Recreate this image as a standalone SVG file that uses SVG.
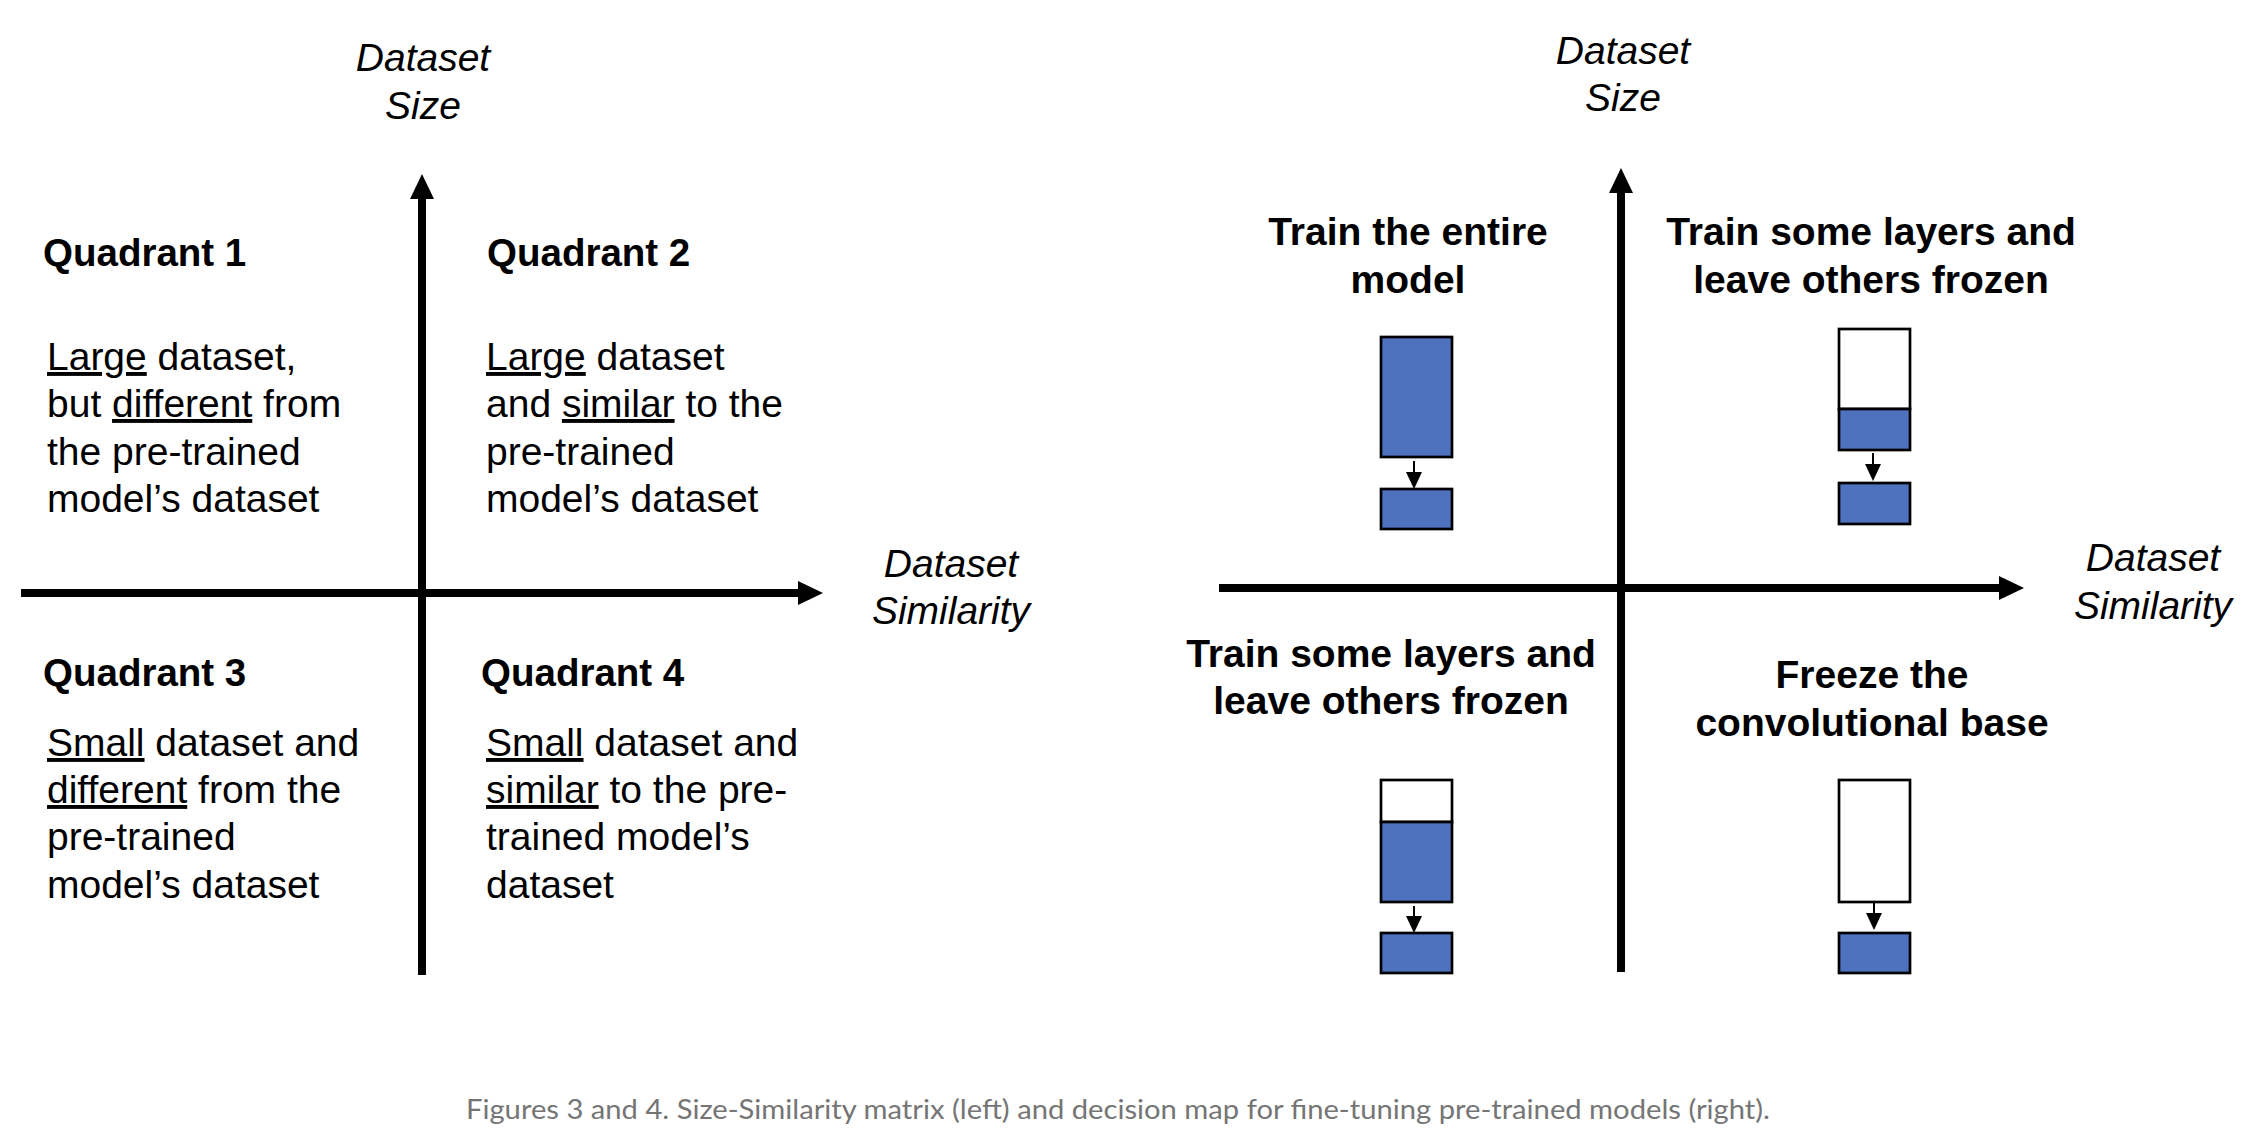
<svg xmlns="http://www.w3.org/2000/svg" width="2252" height="1148" viewBox="0 0 2252 1148">
<defs>
<style>
.ax{stroke:#000;stroke-width:8;fill:none}
.ar{stroke:#000;stroke-width:2;fill:none}
.lab{font-family:"Liberation Sans",Arial,sans-serif;font-style:italic;font-size:39px;fill:#000;text-anchor:middle}
.qh{font-family:"Liberation Sans",Arial,sans-serif;font-weight:bold;font-size:38.5px;fill:#000}
.body{font-family:"Liberation Sans",Arial,sans-serif;font-size:39px;fill:#000}
.hd{font-family:"Liberation Sans",Arial,sans-serif;font-weight:bold;font-size:39px;fill:#000;text-anchor:middle}
.u{text-decoration:underline}
.blue{fill:#4E72BE;stroke:#000;stroke-width:2.7}
.white{fill:#fff;stroke:#000;stroke-width:2.7}
.cap{font-family:Lato,"Open Sans",sans-serif;font-size:27px;fill:#757575;text-anchor:middle}
</style>
<marker id="big" viewBox="0 0 25 24" refX="0" refY="12" markerWidth="25" markerHeight="24" markerUnits="userSpaceOnUse" orient="auto">
<path d="M0,0 L25,12 L0,24 z" fill="#000"/>
</marker>
<marker id="small" viewBox="0 0 17 16" refX="0" refY="8" markerWidth="17" markerHeight="16" markerUnits="userSpaceOnUse" orient="auto">
<path d="M0,0 L17,8 L0,16 z" fill="#000"/>
</marker>
</defs>
<rect width="2252" height="1148" fill="#fff"/>

<g id="connectors">
<line class="ax" x1="422" y1="975" x2="422" y2="199" marker-end="url(#big)"/>
<line class="ax" x1="21" y1="593" x2="798" y2="593" marker-end="url(#big)"/>
<line class="ax" x1="1621" y1="972" x2="1621" y2="193" marker-end="url(#big)"/>
<line class="ax" x1="1219" y1="588" x2="1999" y2="588" marker-end="url(#big)"/>
<line class="ar" x1="1414" y1="461" x2="1414" y2="472" marker-end="url(#small)"/>
<line class="ar" x1="1873" y1="453" x2="1873" y2="464" marker-end="url(#small)"/>
<line class="ar" x1="1414" y1="906" x2="1414" y2="916" marker-end="url(#small)"/>
<line class="ar" x1="1874" y1="902" x2="1874" y2="913" marker-end="url(#small)"/>
</g>

<g id="left-axis-labels">
<text class="lab" x="423" y="71">Dataset</text>
<text class="lab" x="423" y="119">Size</text>
<text class="lab" x="951" y="577">Dataset</text>
<text class="lab" x="951" y="624">Similarity</text>
</g>

<g id="quadrant1">
<text class="qh" x="43" y="266">Quadrant 1</text>
<text class="body" x="47" y="370"><tspan class="u">Large</tspan> dataset,</text>
<text class="body" x="47" y="417">but <tspan class="u">different</tspan> from</text>
<text class="body" x="47" y="465">the pre-trained</text>
<text class="body" x="47" y="512">model’s dataset</text>
</g>

<g id="quadrant2">
<text class="qh" x="487" y="266">Quadrant 2</text>
<text class="body" x="486" y="370"><tspan class="u">Large</tspan> dataset</text>
<text class="body" x="486" y="417">and <tspan class="u">similar</tspan> to the</text>
<text class="body" x="486" y="465">pre-trained</text>
<text class="body" x="486" y="512">model’s dataset</text>
</g>

<g id="quadrant3">
<text class="qh" x="43" y="686">Quadrant 3</text>
<text class="body" x="47" y="756"><tspan class="u">Small</tspan> dataset and</text>
<text class="body" x="47" y="803"><tspan class="u">different</tspan> from the</text>
<text class="body" x="47" y="850">pre-trained</text>
<text class="body" x="47" y="898">model’s dataset</text>
</g>

<g id="quadrant4">
<text class="qh" x="481" y="686">Quadrant 4</text>
<text class="body" x="486" y="756"><tspan class="u">Small</tspan> dataset and</text>
<text class="body" x="486" y="803"><tspan class="u">similar</tspan> to the pre-</text>
<text class="body" x="486" y="850">trained model’s</text>
<text class="body" x="486" y="898">dataset</text>
</g>

<g id="right-axis-labels">
<text class="lab" x="1623" y="64">Dataset</text>
<text class="lab" x="1623" y="111">Size</text>
<text class="lab" x="2153" y="571">Dataset</text>
<text class="lab" x="2153" y="619">Similarity</text>
</g>

<g id="train-entire">
<text class="hd" x="1408" y="245">Train the entire</text>
<text class="hd" x="1408" y="293">model</text>
<rect class="blue" x="1381" y="337" width="71" height="120"/>
<rect class="blue" x="1381" y="489" width="71" height="40"/>
</g>

<g id="train-some-top">
<text class="hd" x="1871" y="245">Train some layers and</text>
<text class="hd" x="1871" y="293">leave others frozen</text>
<rect class="white" x="1839" y="329" width="71" height="80"/>
<rect class="blue" x="1839" y="409" width="71" height="41"/>
<rect class="blue" x="1839" y="483" width="71" height="41"/>
</g>

<g id="train-some-bottom">
<text class="hd" x="1391" y="667">Train some layers and</text>
<text class="hd" x="1391" y="714">leave others frozen</text>
<rect class="white" x="1381" y="780" width="71" height="42"/>
<rect class="blue" x="1381" y="822" width="71" height="80"/>
<rect class="blue" x="1381" y="933" width="71" height="40"/>
</g>

<g id="freeze-base">
<text class="hd" x="1872" y="688">Freeze the</text>
<text class="hd" x="1872" y="736">convolutional base</text>
<rect class="white" x="1839" y="780" width="71" height="122"/>
<rect class="blue" x="1839" y="933" width="71" height="40"/>
</g>

<text class="cap" x="1118" y="1119" textLength="1304" lengthAdjust="spacingAndGlyphs">Figures 3 and 4. Size-Similarity matrix (left) and decision map for fine-tuning pre-trained models (right).</text>
</svg>
